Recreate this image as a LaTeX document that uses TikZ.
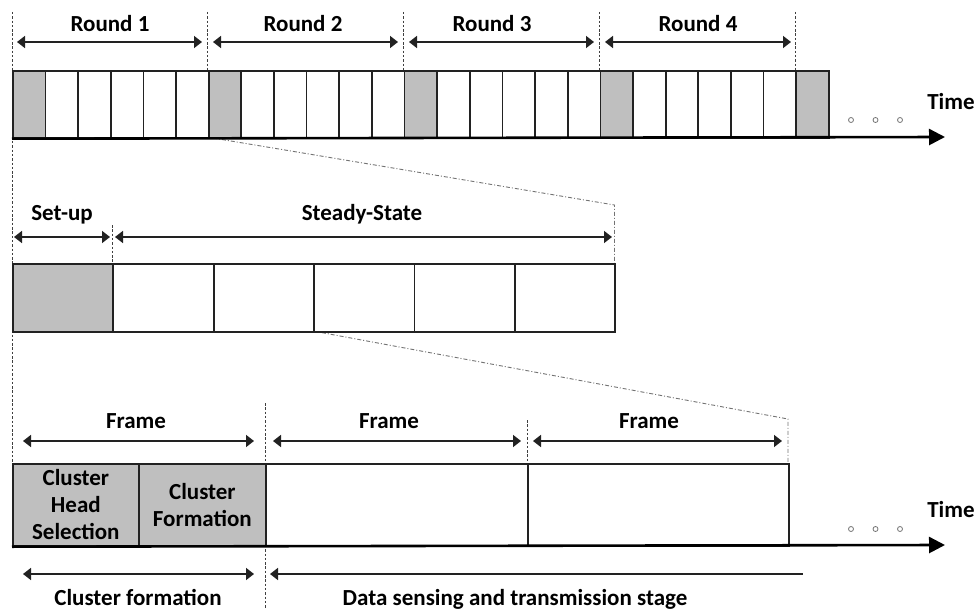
\documentclass[tikz,border=0pt]{standalone}
\usepackage{fontspec}
\setmainfont{Carlito}
\usetikzlibrary{arrows.meta}
\definecolor{cellgray}{HTML}{BFBFBF}
\definecolor{linec}{HTML}{222222}
\begin{document}
\begin{tikzpicture}[x=1pt,y=-1pt,
  cellbox/.style={draw=linec, line width=1.7pt, inner sep=0pt, anchor=north west, align=center,
     font=\fontsize{23}{27}\selectfont\bfseries},
  lbl/.style={font=\fontsize{23}{27}\selectfont\bfseries, inner sep=0pt, anchor=base},
  dimline/.style={line width=1.6pt, color=linec, {Triangle[length=8pt,width=12pt]}-{Triangle[length=8pt,width=12pt]}},
  leftdim/.style={line width=1.6pt, color=linec, {Triangle[length=8pt,width=12pt]}-},
  guide/.style={line width=0.7pt, color=black!75, dash pattern=on 2.5pt off 1.8pt},
  zoomline/.style={line width=0.9pt, color=black!55, dash pattern=on 4pt off 2pt on 1pt off 2pt},
  axisline/.style={line width=2.6pt, color=black, -{Triangle[length=16pt,width=16pt]}},
  dot/.style={circle, draw=black!55, line width=0.8pt, fill=white, minimum size=5pt, inner sep=0pt}
]
\useasboundingbox (0,0) rectangle (978,610);

% ---------- guide lines ----------
\coordinate (g0a) at (12,12);   \coordinate (g0b) at (12,463);
\draw[guide] (g0a) -- (g0b);
\foreach \x [count=\k] in {207.8,403.7,599.5,795.4}{
  \coordinate (ga\k) at (\x,12); \coordinate (gb\k) at (\x,70);
  \draw[guide] (ga\k) -- (gb\k);
}
\coordinate (s1) at (112.3,225); \coordinate (s2) at (112.3,263);
\draw[guide] (s1) -- (s2);
\coordinate (f1a) at (265,403); \coordinate (f1b) at (265,608);
\draw[guide] (f1a) -- (f1b);
\coordinate (f2a) at (527,420); \coordinate (f2b) at (527,463);
\draw[guide] (f2a) -- (f2b);

% ---------- zoom lines ----------
\coordinate (z1a) at (213,138); \coordinate (z1b) at (614.5,205); \coordinate (z1c) at (614.5,263);
\draw[zoomline] (z1a) -- (z1b) -- (z1c);
\coordinate (z2a) at (313,331); \coordinate (z2b) at (788,419); \coordinate (z2c) at (788,463);
\draw[zoomline] (z2a) -- (z2b) -- (z2c);

% ---------- top row ----------
\foreach \i in {0,...,24}{
  \pgfmathtruncatemacro\r{mod(\i,6)}
  \ifnum\r=0 \def\fc{cellgray}\else\def\fc{white}\fi
  \node[cellbox, fill=\fc, minimum width=32.64pt, minimum height=67pt] (t\i) at ({12+\i*32.64},70) {};
}
\coordinate (ax1) at (945,137);
\draw[axisline] (t0.south west) -- (ax1);
\node[lbl] (time1) at (951,110) {Time};
\node[dot] (d1) at (851,120) {};
\node[dot] (d2) at (875.5,120) {};
\node[dot] (d3) at (900,120) {};

\foreach \a/\b/\c/\t [count=\k] in {17/202/110/Round 1, 213/398/303/Round 2, 409/594/492/Round 3, 605/791/698/Round 4}{
  \coordinate (ra\k) at (\a,42); \coordinate (rb\k) at (\b,42);
  \draw[dimline] (ra\k) -- (rb\k);
  \node[lbl] (rl\k) at (\c,31.5) {\t};
}

% ---------- middle row ----------
\foreach \i in {0,...,5}{
  \ifnum\i=0 \def\fc{cellgray}\else\def\fc{white}\fi
  \node[cellbox, fill=\fc, minimum width=100.4pt, minimum height=68pt] (m\i) at ({12+\i*100.4},263) {};
}
\coordinate (sua) at (14,237); \coordinate (sub) at (110,237);
\draw[dimline] (sua) -- (sub);
\node[lbl] (setup) at (62,220) {Set-up};
\coordinate (ssa) at (115,237); \coordinate (ssb) at (612,237);
\draw[dimline] (ssa) -- (ssb);
\node[lbl] (steady) at (362,220) {Steady-State};

% ---------- bottom row ----------
\node[cellbox, fill=cellgray, minimum width=126pt, minimum height=82pt] (b1) at (12,463) {Cluster\\Head\\Selection};
\node[cellbox, fill=cellgray, minimum width=127pt, minimum height=82pt] (b2) at (138,463) {Cluster\\Formation};
\node[cellbox, fill=white, minimum width=262pt, minimum height=82pt] (b3) at (265,463) {};
\node[cellbox, fill=white, minimum width=261pt, minimum height=82pt] (b4) at (527,463) {};
\coordinate (ax2) at (945,545);
\draw[axisline] (b1.south west) -- (ax2);
\node[lbl] (time2) at (951,517) {Time};
\node[dot] (d4) at (851,529) {};
\node[dot] (d5) at (875.5,529) {};
\node[dot] (d6) at (900,529) {};

\foreach \a/\b/\c [count=\k] in {23/254/136, 273/521/389, 533/782/649}{
  \coordinate (fa\k) at (\a,441); \coordinate (fb\k) at (\b,441);
  \draw[dimline] (fa\k) -- (fb\k);
  \node[lbl] (fl\k) at (\c,428) {Frame};
}

\coordinate (ca) at (23,574); \coordinate (cb) at (254,574);
\draw[dimline] (ca) -- (cb);
\node[lbl] (cf) at (138,605) {Cluster formation};
\coordinate (da) at (270,574); \coordinate (db) at (803,574);
\draw[leftdim] (da) -- (db);
\node[lbl] (ds) at (515,605) {Data sensing and transmission stage};
\end{tikzpicture}
\end{document}
